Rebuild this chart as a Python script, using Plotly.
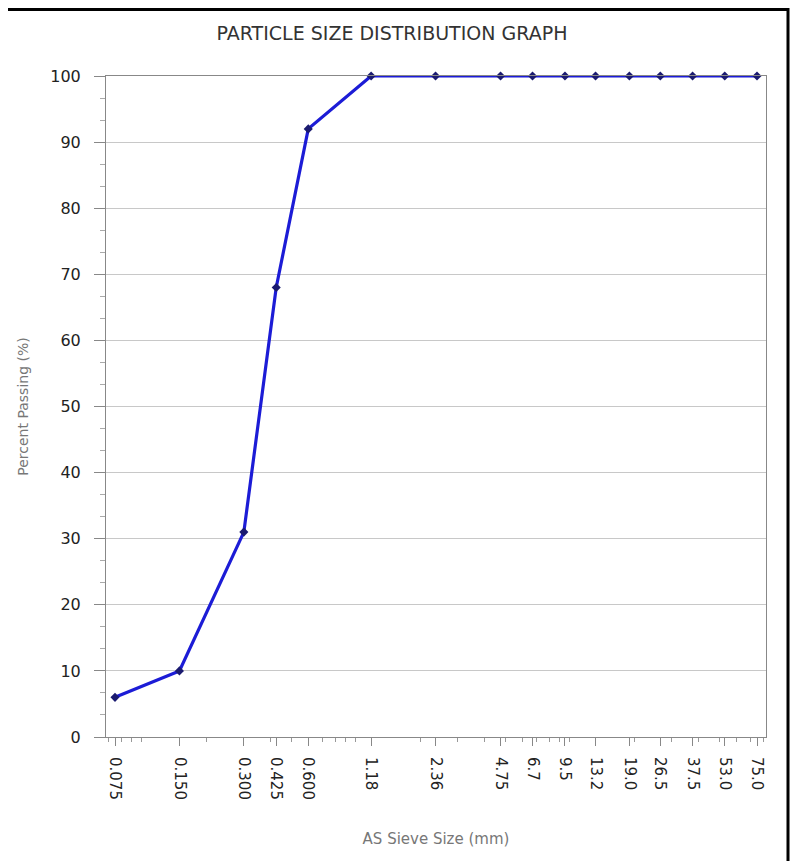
import numpy as np
import plotly.graph_objects as go

# sieve sizes (mm) and percent passing
sieve_sizes = [0.075, 0.150, 0.300, 0.425, 0.600, 1.18, 2.36, 4.75, 6.7,
               9.5, 13.2, 19.0, 26.5, 37.5, 53.0, 75.0]
percent_passing = [6, 10, 31, 68, 92, 100, 100, 100, 100,
                   100, 100, 100, 100, 100, 100, 100]
tick_labels = ["0.075", "0.150", "0.300", "0.425", "0.600", "1.18", "2.36", "4.75",
               "6.7", "9.5", "13.2", "19.0", "26.5", "37.5", "53.0", "75.0"]

# page has an 8px body margin, so the figure is a bit smaller than the window
W, H = 790, 853
L, R, T, B = 98, 32, 68, 124
pw, ph = W - L - R, H - T - B

# pad the log axis a little past the end sieves
pad = 9 / pw * 3.0 / (1 - 18 / pw)
xr = [np.log10(sieve_sizes[0]) - pad, np.log10(sieve_sizes[-1]) + pad]

fig = go.Figure()
fig.add_trace(go.Scatter(
    x=sieve_sizes, y=percent_passing, mode="lines+markers",
    line=dict(color="#1c1cd6", width=3.2),
    marker=dict(symbol="diamond", size=7, color="#1a1a70"),
    showlegend=False, cliponaxis=False,
))

fig.update_layout(
    width=W, height=H,
    margin=dict(l=L, r=R, t=T, b=B),
    paper_bgcolor="white", plot_bgcolor="white",
    font=dict(family="DejaVu Sans", color="#222"),
    title=dict(text="PARTICLE SIZE DISTRIBUTION GRAPH", x=384 / W, xanchor="center",
               y=1 - 25 / H, yanchor="middle",
               font=dict(size=19, color="#333", family="DejaVu Sans")),
)

fig.update_xaxes(
    type="log", range=xr,
    tickmode="array", tickvals=sieve_sizes, ticktext=tick_labels,
    tickangle=90, tickfont=dict(size=15, color="#222"),
    ticks="outside", ticklen=8, tickcolor="#888", ticklabelstandoff=8,
    showgrid=False, zeroline=False,
    showline=True, linecolor="#888", linewidth=1, mirror=True,
    minor=dict(ticks="outside", ticklen=4, tickcolor="#999", dtick="D1", showgrid=False),
    title=dict(text="AS Sieve Size (mm)", font=dict(size=15, color="#777"), standoff=34),
)

fig.update_yaxes(
    range=[0, 100], tickmode="linear", tick0=0, dtick=10,
    tickfont=dict(size=16, color="#222"),
    ticks="outside", ticklen=11, tickcolor="#888", ticklabelstandoff=10,
    showgrid=True, gridcolor="#c8c8c8", gridwidth=1, zeroline=False,
    showline=True, linecolor="#888", linewidth=1, mirror=True,
    minor=dict(ticks="outside", ticklen=5, tickcolor="#aaa", dtick=10 / 3, tick0=0, showgrid=False),
    title=dict(text="Percent Passing (%)", font=dict(size=14, color="#777"), standoff=18),
)

# black frame edges at the top and right of the image
fig.add_shape(type="line", xref="paper", yref="paper",
              x0=-L / pw, x1=(781 - L) / pw, y0=1 + (T - 1.5) / ph, y1=1 + (T - 1.5) / ph,
              line=dict(color="black", width=3))
fig.add_shape(type="line", xref="paper", yref="paper",
              x0=(780 - L) / pw, x1=(780 - L) / pw, y0=-B / ph, y1=1 + T / ph,
              line=dict(color="black", width=3))

fig.write_html("out.html")
